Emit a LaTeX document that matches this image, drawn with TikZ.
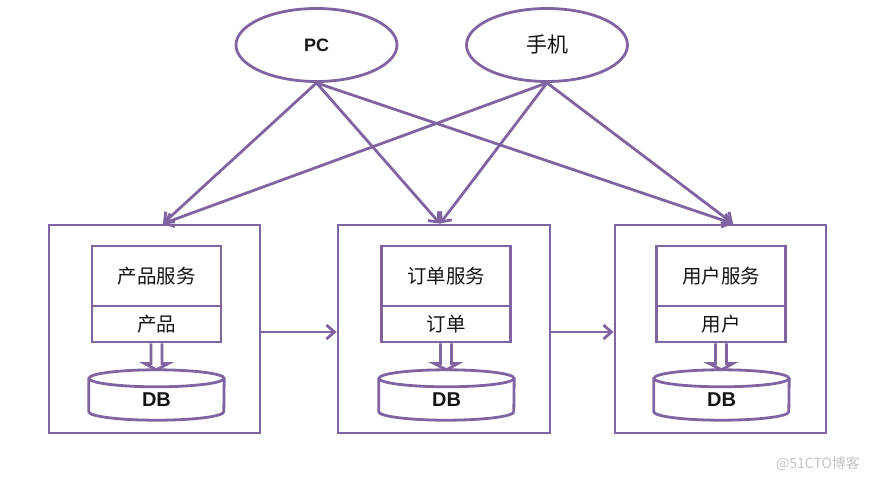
\documentclass[tikz,border=0pt]{standalone}
\usepackage{fontspec}
\setmainfont{Liberation Sans}
\newfontfamily\cjk{Noto Sans CJK SC}
\usetikzlibrary{shapes.geometric,arrows.meta,calc}
\definecolor{lnpurple}{RGB}{128,100,162}
\definecolor{wmgray}{RGB}{195,195,195}
\definecolor{txt}{RGB}{20,20,20}
\begin{document}
\begin{tikzpicture}[x=1pt,y=-1pt,
  ln/.style={draw=lnpurple, line width=2.8pt},
  arr/.style={draw=lnpurple, line width=2.8pt, -{Straight Barb[length=8pt,width=14pt]}},
  ell/.style={ellipse, ln, minimum width=161pt, minimum height=73pt, inner sep=0pt, text=txt},
  outerbox/.style={rectangle, ln, minimum height=208pt, inner sep=0pt},
  svcbox/.style={rectangle, ln, minimum width=129pt, minimum height=60pt, inner sep=0pt, text=txt, font=\cjk\fontsize{19.5}{19.5}\selectfont},
  tblbox/.style={rectangle, ln, minimum width=129pt, minimum height=36pt, inner sep=0pt, text=txt, font=\cjk\fontsize{19.5}{19.5}\selectfont},
  dbbox/.style={rectangle, minimum width=135pt, minimum height=50pt, inner sep=0pt},
  dbtext/.style={inner sep=0pt, text=txt, font=\bfseries\fontsize{20}{20}\selectfont},
  blockarr/.style={ln, fill=white, line join=miter},
]
\useasboundingbox (0,0) rectangle (876,482);

% top ellipses
\node[ell, font=\bfseries\fontsize{18}{18}\selectfont] (pc) at (316.5,45) {PC};
\node[ell, font=\cjk\fontsize{21}{21}\selectfont] (phone) at (547,45) {手机};

% outer boxes
\node[outerbox, minimum width=211pt] (box1) at (154.5,329) {};
\node[outerbox, minimum width=212pt] (box2) at (444,329) {};
\node[outerbox, minimum width=211pt] (box3) at (720.5,329) {};

% service boxes
\node[svcbox] (svc1) at (156.5,276) {产品服务};
\node[tblbox] (tbl1) at (156.5,324) {产品};
\node[svcbox] (svc2) at (446,276) {订单服务};
\node[tblbox] (tbl2) at (446,324) {订单};
\node[svcbox] (svc3) at (721,276) {用户服务};
\node[tblbox] (tbl3) at (721,324) {用户};

% databases
\foreach \i/\x in {1/156.5, 2/446.5, 3/721.5}{
  \node[dbbox] (db\i) at (\x,395) {};
  \draw[ln] ($(db\i.north)+(0,8.5)$) ellipse [x radius=67.5, y radius=8.5];
  \draw[ln] ($(db\i.north west)+(0,8.5)$) -- ($(db\i.south west)+(0,-8.5)$)
     arc[start angle=180, end angle=0, x radius=67.5, y radius=8.5]
     -- ($(db\i.north east)+(0,8.5)$);
  \node[dbtext] (dbt\i) at ($(db\i.center)+(0,5)$) {DB};
  \draw[blockarr] ($(tbl\i.south)+(-5.5,0)$) -- ++(0,20) -- ++(-6.5,0)
     -- (db\i.north) -- ($(tbl\i.south)+(12,20)$) -- ++(-6.5,0)
     -- ($(tbl\i.south)+(5.5,0)$);
}

% client arrows
\coordinate (t1) at ($(box1.north)+(8.5,0)$);
\coordinate (t2) at ($(box2.north)+(-4,0)$);
\coordinate (t3) at ($(box3.north)+(12.5,0)$);
\foreach \s in {pc, phone}{
  \foreach \t in {t1,t2,t3}{
    \draw[arr] (\s.south) -- (\t);
  }
}

% service to service
\coordinate (h1s) at ($(box1.east)+(0,3)$);
\coordinate (h1e) at ($(box2.west)+(0,3)$);
\coordinate (h2s) at ($(box2.east)+(0,3)$);
\coordinate (h2e) at ($(box3.west)+(0,3)$);
\draw[arr] (h1s) -- (h1e);
\draw[arr] (h2s) -- (h2e);

% watermark
\node[text=wmgray, font=\cjk\fontsize{14}{14}\selectfont, inner sep=0pt] (wm) at (818,464) {@51CTO博客};
\end{tikzpicture}
\end{document}
